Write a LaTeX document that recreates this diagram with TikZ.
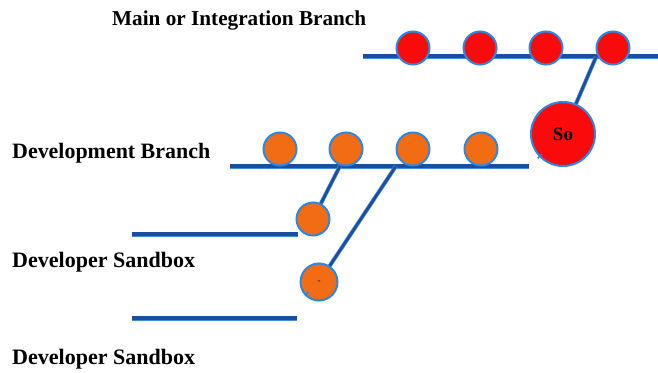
\documentclass[tikz,border=0pt]{standalone}
\usepackage{fontspec}
\setmainfont{Liberation Serif}
\pgfdeclarelayer{lines}
\pgfdeclarelayer{paper}
\pgfsetlayers{paper,lines,main}
\begin{document}
\begin{tikzpicture}[x=1pt,y=-1pt,
  branch/.style={line width=5pt,draw=branchedge,
    postaction={draw=branchblue,line width=3.4pt}},
  link/.style={line width=4pt,draw=branchedge,
    postaction={draw=branchblue,line width=2.6pt}},
  commit/.style={circle,inner sep=0pt,minimum size=33pt,draw=ringblue,line width=2pt},
  maincommit/.style={commit,fill=commitred},
  devcommit/.style={commit,fill=commitorange},
  lbl/.style={anchor=west,inner sep=0pt,font=\fontsize{21.5}{24}\selectfont\bfseries}]
\definecolor{branchblue}{RGB}{28,78,160}
\definecolor{branchedge}{RGB}{70,140,220}
\definecolor{ringblue}{RGB}{45,135,225}
\definecolor{commitred}{RGB}{250,10,10}
\definecolor{commitorange}{RGB}{242,108,20}
\useasboundingbox (0,0) rectangle (658,372);
\begin{pgfonlayer}{paper}
\fill[white] (0,0) rectangle (658,372);
\end{pgfonlayer}

% labels
\node[lbl] (tmain) at (112,20) {\resizebox{254pt}{!}{Main or Integration Branch}};
\node[lbl] (tdev) at (12,153) {\resizebox{198pt}{!}{Development Branch}};
\node[lbl] (tsb1) at (12,262) {\resizebox{183pt}{!}{Developer Sandbox}};
\node[lbl] (tsb2) at (12,359) {\resizebox{183pt}{!}{Developer Sandbox}};

% branch end points and junctions
\coordinate (ms) at (363,56);
\coordinate (me) at (658,56);
\coordinate (mj) at (596,57);
\coordinate (ds) at (230,166);
\coordinate (de) at (529,166);
\coordinate (dj1) at (340,166);
\coordinate (dj2) at (396,166);
\coordinate (s1s) at (132,234);
\coordinate (s1e) at (298,234);
\coordinate (s2s) at (132,318);
\coordinate (s2e) at (297,318);

% commits
\node[maincommit] (m1) at (413,48) {};
\node[maincommit] (m2) at (480,48) {};
\node[maincommit] (m3) at (546,48) {};
\node[maincommit] (m4) at (613,48) {};
\node[maincommit,minimum size=64pt,font=\fontsize{19}{22}\selectfont\bfseries] (so) at (563,134) {So};
\node[devcommit] (d1) at (280,149) {};
\node[devcommit] (d2) at (346,149) {};
\node[devcommit] (d3) at (413,149) {};
\node[devcommit] (d4) at (481,149) {};
\node[devcommit] (s1) at (313,219) {};
\node[devcommit,minimum size=37pt,font=\small\bfseries,text=black!80!red] (s2) at (319,282) {-};

% branch lines and merge links, kept behind the commits
\begin{pgfonlayer}{lines}
\path[branch] (ms) -- (me);
\path[branch] (ds) -- (de);
\path[branch] (s1s) -- (s1e);
\path[branch] (s2s) -- (s2e);
\path[link] (mj) -- (so.center);
\path[link] (dj1) -- (s1.center);
\path[link] (dj2) -- (s2.center);
\end{pgfonlayer}

% small hooks at the lower left of the merge targets
\draw[ringblue,line width=1.6pt] (so.south west) ++(2,-3) -- ++(-4,4);
\draw[ringblue,line width=1.6pt] (s2.south west) ++(3,-4) -- ++(-3,4);
\end{tikzpicture}
\end{document}
